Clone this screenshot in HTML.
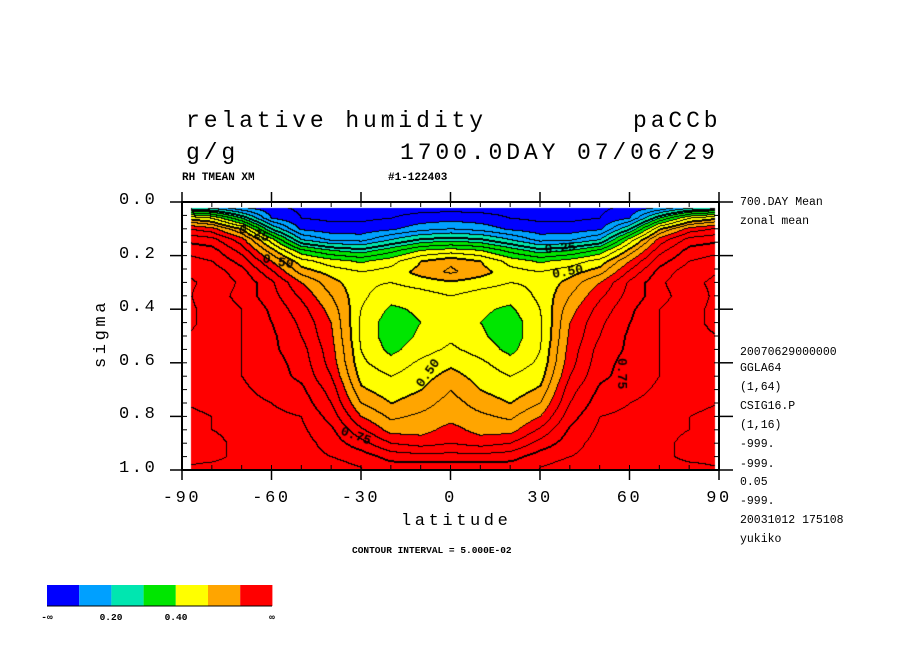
<!DOCTYPE html>
<html><head><meta charset="utf-8"><style>
body{margin:0;background:#fff;width:904px;height:654px;position:relative;overflow:hidden;font-family:"Liberation Mono",monospace;}
.t{position:absolute;white-space:nowrap;color:#000;}
.big{font-family:"Liberation Mono",monospace;font-size:23px;letter-spacing:3.9px;}
.sm{font-size:11px;font-weight:bold;}
.rt{font-size:11.5px;left:740px;}
.ax{font-family:"Liberation Mono",monospace;font-size:17px;letter-spacing:2.6px;}
</style></head><body>
<div class="t big" style="left:186px;top:108px">relative humidity</div>
<div class="t big" style="left:633px;top:108px">paCCb</div>
<div class="t big" style="left:186px;top:140px">g/g</div>
<div class="t big" style="left:400px;top:140px">1700.0DAY 07/06/29</div>
<div class="t sm" style="left:182px;top:172px">RH TMEAN XM</div>
<div class="t sm" style="left:388px;top:172px">#1-122403</div>
<div class="t rt" style="top:196px">700.DAY Mean</div>
<div class="t rt" style="top:215px">zonal mean</div>
<div class="t rt" style="top:346px">20070629000000</div>
<div class="t rt" style="top:362px">GGLA64</div>
<div class="t rt" style="top:381px">(1,64)</div>
<div class="t rt" style="top:400px">CSIG16.P</div>
<div class="t rt" style="top:419px">(1,16)</div>
<div class="t rt" style="top:438px">-999.</div>
<div class="t rt" style="top:458px">-999.</div>
<div class="t rt" style="top:476px">0.05</div>
<div class="t rt" style="top:495px">-999.</div>
<div class="t rt" style="top:514px">20031012 175108</div>
<div class="t rt" style="top:533px">yukiko</div>
<div class="t" style="left:352px;top:545px;font-size:9.5px;font-weight:bold">CONTOUR INTERVAL = 5.000E-02</div>
<div class="t ax" style="left:401px;top:512px;letter-spacing:3.6px">latitude</div>
<div class="t ax" style="left:67px;top:324px;transform:rotate(-90deg);letter-spacing:3.6px">sigma</div>
<div id="ylab"></div><div id="xlab"></div>
<canvas id="cv" width="904" height="654" style="position:absolute;left:0;top:0"></canvas>
<svg id="sv" width="904" height="654" style="position:absolute;left:0;top:0"></svg>
<script>
const lats=[-90,-80,-70,-60,-50,-40,-30,-20,-10,0,10,20,30,40,50,60,70,80,90];
const sigmas=[0.02,0.06,0.1,0.14,0.18,0.22,0.26,0.3,0.35,0.4,0.45,0.5,0.55,0.6,0.65,0.7,0.75,0.8,0.85,0.9,0.95,0.99];
const rh=[
[0.22,0.18,0.1,0.06,0.04,0.03,0.03,0.03,0.03,0.03,0.03,0.03,0.03,0.03,0.04,0.06,0.1,0.18,0.22],
[0.5,0.45,0.3,0.1,0.05,0.04,0.04,0.05,0.07,0.08,0.07,0.05,0.04,0.04,0.05,0.1,0.3,0.45,0.5],
[0.66,0.62,0.5,0.25,0.09,0.07,0.07,0.09,0.13,0.15,0.13,0.09,0.07,0.07,0.09,0.25,0.5,0.62,0.66],
[0.74,0.72,0.62,0.42,0.2,0.14,0.13,0.2,0.26,0.28,0.26,0.2,0.13,0.14,0.2,0.42,0.62,0.72,0.74],
[0.79,0.77,0.68,0.52,0.36,0.3,0.27,0.33,0.4,0.42,0.4,0.33,0.27,0.3,0.36,0.52,0.68,0.77,0.79],
[0.82,0.8,0.73,0.6,0.47,0.42,0.39,0.43,0.5,0.54,0.5,0.43,0.39,0.42,0.47,0.6,0.73,0.8,0.82],
[0.85,0.83,0.77,0.66,0.53,0.48,0.45,0.47,0.52,0.56,0.52,0.47,0.45,0.48,0.53,0.66,0.77,0.83,0.85],
[0.86,0.84,0.79,0.71,0.6,0.52,0.46,0.45,0.47,0.49,0.47,0.45,0.46,0.52,0.6,0.71,0.79,0.84,0.86],
[0.86,0.83,0.78,0.72,0.64,0.55,0.46,0.42,0.43,0.45,0.43,0.42,0.46,0.55,0.64,0.72,0.78,0.83,0.86],
[0.86,0.84,0.8,0.74,0.67,0.58,0.45,0.39,0.41,0.44,0.41,0.39,0.45,0.58,0.67,0.74,0.8,0.84,0.86],
[0.86,0.84,0.8,0.75,0.69,0.6,0.44,0.37,0.4,0.43,0.4,0.37,0.44,0.6,0.69,0.75,0.8,0.84,0.86],
[0.85,0.84,0.8,0.76,0.7,0.61,0.44,0.37,0.41,0.44,0.41,0.37,0.44,0.61,0.7,0.76,0.8,0.84,0.85],
[0.85,0.83,0.8,0.76,0.72,0.62,0.45,0.385,0.43,0.46,0.43,0.385,0.45,0.62,0.72,0.76,0.8,0.83,0.85],
[0.85,0.83,0.8,0.77,0.73,0.63,0.46,0.42,0.46,0.49,0.46,0.42,0.46,0.63,0.73,0.77,0.8,0.83,0.85],
[0.85,0.83,0.8,0.77,0.74,0.65,0.48,0.45,0.48,0.52,0.48,0.45,0.48,0.65,0.74,0.77,0.8,0.83,0.85],
[0.85,0.83,0.81,0.78,0.76,0.68,0.51,0.47,0.5,0.55,0.5,0.47,0.51,0.68,0.76,0.78,0.81,0.83,0.85],
[0.85,0.84,0.82,0.8,0.78,0.7,0.55,0.5,0.53,0.57,0.53,0.5,0.55,0.7,0.78,0.8,0.82,0.84,0.85],
[0.86,0.85,0.83,0.81,0.8,0.73,0.6,0.54,0.56,0.58,0.56,0.54,0.6,0.73,0.8,0.81,0.83,0.85,0.86],
[0.86,0.85,0.84,0.82,0.81,0.76,0.66,0.58,0.58,0.62,0.58,0.58,0.66,0.76,0.81,0.82,0.84,0.85,0.86],
[0.86,0.86,0.84,0.83,0.82,0.78,0.72,0.65,0.63,0.65,0.63,0.65,0.72,0.78,0.82,0.83,0.84,0.86,0.86],
[0.86,0.86,0.84,0.83,0.82,0.8,0.78,0.73,0.72,0.72,0.72,0.73,0.78,0.8,0.82,0.83,0.84,0.86,0.86],
[0.85,0.84,0.83,0.82,0.83,0.82,0.8,0.78,0.78,0.78,0.78,0.78,0.8,0.82,0.83,0.82,0.83,0.84,0.85]];
const binColors=['#0000ff','#00a0ff','#00e6b0','#00e600','#ffff00','#ffa500','#ff0000'];
const legendLabels=['-\u221e','0.20','0.40','\u221e'];
const yTicks=[0,0.2,0.4,0.6,0.8,1.0];
const xTicks=[-90,-60,-30,0,30,60,90];

const X0=182,X1=719,Y0=202,Y1=470;
const xs=l=>X0+(l+90)/180*(X1-X0);
const ys=s=>Y0+s*(Y1-Y0);
function idx(arr,v){let i=0;while(i<arr.length-2&&v>arr[i+1])i++;let t=(v-arr[i])/(arr[i+1]-arr[i]);return [i,Math.max(0,Math.min(1,t))];}
function val(lat,s){const [i,u]=idx(lats,lat);const [j,w]=idx(sigmas,s);
 return (rh[j][i]*(1-u)+rh[j][i+1]*u)*(1-w)+(rh[j+1][i]*(1-u)+rh[j+1][i+1]*u)*w;}
function hex(c){return [parseInt(c.substr(1,2),16),parseInt(c.substr(3,2),16),parseInt(c.substr(5,2),16)];}
const cols=binColors.map(hex);
const cv=document.getElementById('cv'),ctx=cv.getContext('2d');
const px0=Math.round(xs(-87)),px1=Math.round(xs(88.5)),py0=Math.round(ys(0.022)),py1=Y1;
const W=px1-px0,H=py1-py0;
const V=[];for(let y=0;y<H;y++){V[y]=[];for(let x=0;x<W;x++){const lat=-90+(px0+x-X0)/(X1-X0)*180;const s=(py0+y-Y0)/(Y1-Y0);V[y][x]=val(lat,s);}}
const img=ctx.createImageData(W,H);
const lev=v=>Math.floor(v/0.05+1e-9);
for(let y=0;y<H;y++)for(let x=0;x<W;x++){
 const v=V[y][x];let b=Math.min(6,Math.max(0,Math.floor(v/0.1)));let c=cols[b];
 const L=lev(v);let line=false;
 const nb=[[x+1,y],[x,y+1]];
 for(const [a,bq] of nb){if(a<W&&bq<H){const L2=lev(V[bq][a]);if(L2!==L){line=true;}}}
 if(!line&&x>0&&y>0){const L3=lev(V[y][x-1]),L4=lev(V[y-1][x]);for(const L2 of [L3,L4]){if(L2!==L&&Math.max(L,L2)%5===0){line=true;}}}
 if(line)c=[0,0,0];
 const k=(y*W+x)*4;img.data[k]=c[0];img.data[k+1]=c[1];img.data[k+2]=c[2];img.data[k+3]=255;}
ctx.putImageData(img,px0,py0);
ctx.font='bold 13px "Liberation Mono",monospace';ctx.fillStyle='#000';
function lab(t,x,y,r){ctx.save();ctx.translate(x,y);ctx.rotate(r*Math.PI/180);ctx.fillText(t,0,0);ctx.restore();}
lab('0.25',238,232,18);lab('0.50',262,262,12);lab('0.25',545,253,-5);lab('0.50',553,278,-10);
lab('0.75',340,434,20);lab('0.50',422,388,-55);lab('0.75',618,358,90);
const sv=document.getElementById('sv');const NS='http://www.w3.org/2000/svg';
function ln(x1,y1,x2,y2,w,name){const e=document.createElementNS(NS,'line');e.setAttribute('x1',x1);e.setAttribute('y1',y1);e.setAttribute('x2',x2);e.setAttribute('y2',y2);e.setAttribute('stroke','#000');e.setAttribute('stroke-width',w);


sv.appendChild(e);}
const fr=document.createElementNS(NS,'rect');fr.setAttribute('x',X0);fr.setAttribute('y',Y0);fr.setAttribute('width',X1-X0);fr.setAttribute('height',Y1-Y0);fr.setAttribute('fill','none');fr.setAttribute('stroke','#000');fr.setAttribute('stroke-width',2);


sv.appendChild(fr);
for(let s=0;s<=1.0001;s+=0.05){const y=ys(s);const maj=Math.abs(s*5-Math.round(s*5))<1e-6;
 if(maj){ln(X0-12,y,X0,y,1.5,'y-major-tick');ln(X1,y,X1+14,y,1.5,'y-major-tick-right');}
 ln(X0,y,X0+5,y,1,'y-minor-tick');ln(X1-5,y,X1,y,1,'y-minor-tick-right');}
for(let l=-90;l<=90;l+=10){const x=xs(l);const maj=l%30===0;
 if(maj){ln(x,Y1,x,Y1+10,1.5,'x-major-tick');ln(x,Y0-10,x,Y0,1.5,'x-major-tick-top');}
 ln(x,Y1-5,x,Y1,1,'x-minor-tick');ln(x,Y0,x,Y0+5,1,'x-minor-tick-top');}
const yl=document.getElementById('ylab');
yTicks.forEach(v=>{const d=document.createElement('div');d.className='t ax';d.textContent=v.toFixed(1);d.style.left='119px';d.style.top=(ys(v)-11)+'px';


yl.appendChild(d);});
const xl=document.getElementById('xlab');
xTicks.forEach(v=>{const d=document.createElement('div');d.className='t ax';d.textContent=String(v);d.style.left=(xs(v)-(String(v).length*12.8)/2)+'px';d.style.top='489px';


xl.appendChild(d);});
binColors.forEach((c,i)=>{const r=document.createElementNS(NS,'rect');r.setAttribute('x',47+i*32.2);r.setAttribute('y',585);r.setAttribute('width',32.2);r.setAttribute('height',21);r.setAttribute('fill',c);


sv.appendChild(r);});
ln(47,606,272,606,1,'legend-baseline');
const lp=[47,111,176,272];
legendLabels.forEach((t,i)=>{const e=document.createElementNS(NS,'text');e.setAttribute('x',lp[i]);e.setAttribute('y',620);e.setAttribute('font-size','9.5');e.setAttribute('font-weight','bold');e.setAttribute('font-family','Liberation Mono, monospace');e.setAttribute('text-anchor','middle');e.textContent=t;


sv.appendChild(e);});
</script>
</body></html>
